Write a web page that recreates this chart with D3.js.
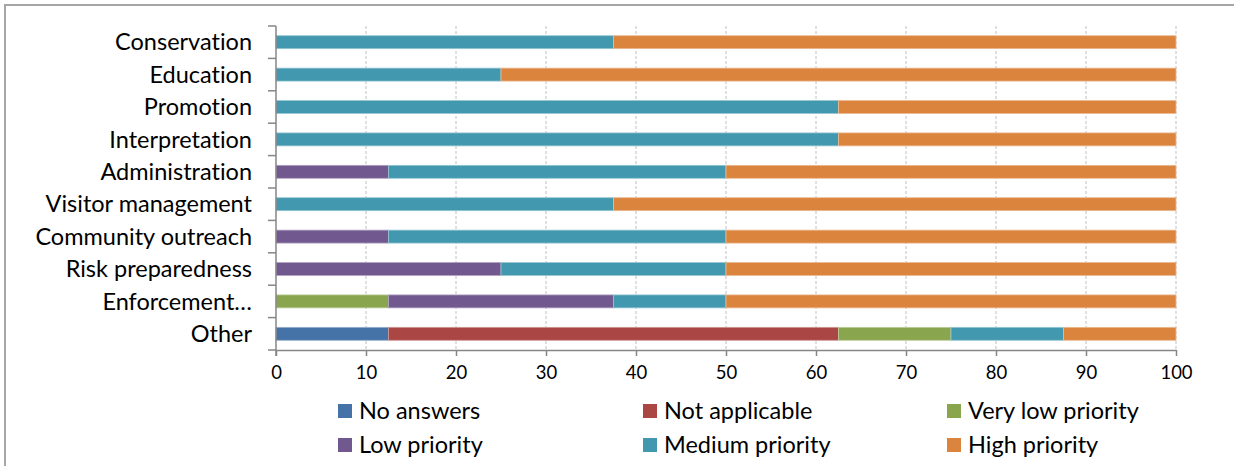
<!DOCTYPE html>
<html><head><meta charset="utf-8">
<script src="https://cdn.jsdelivr.net/npm/d3@7/dist/d3.min.js"></script>
<style>body{margin:0;background:#fff}svg{display:block}text{font-variant-ligatures:none;font-feature-settings:"liga" 0}</style>
</head><body><svg id="c" width="1234" height="466"></svg>
<script>
const categories = ["Conservation","Education","Promotion","Interpretation","Administration","Visitor management","Community outreach","Risk preparedness","Enforcement…","Other"];
const seriesNames = ["No answers","Not applicable","Very low priority","Low priority","Medium priority","High priority"];
const noAnswers     = [0,0,0,0,0,0,0,0,0,12.5];
const notApplicable = [0,0,0,0,0,0,0,0,0,50];
const veryLow       = [0,0,0,0,0,0,0,0,12.5,12.5];
const lowPriority   = [0,0,0,0,12.5,0,12.5,25,25,0];
const mediumPriority= [37.5,25,62.5,62.5,37.5,37.5,37.5,25,12.5,12.5];
const highPriority  = [62.5,75,37.5,37.5,50,62.5,50,50,50,12.5];
const xTicks = [0,10,20,30,40,50,60,70,80,90,100];
const colors = ["#4572a7","#aa4643","#89a54e","#71588f","#4198af","#db843d"];

const seriesValues = [noAnswers,notApplicable,veryLow,lowPriority,mediumPriority,highPriority];
const rows = categories.map((c,i)=>{const r={cat:c}; seriesNames.forEach((s,j)=>r[s]=seriesValues[j][i]); return r;});
const stack = d3.stack().keys(seriesNames)(rows);

const svg = d3.select("#c");
const font = "Lato, 'Open Sans', sans-serif";

// frame
svg.append("rect").attr("x",5).attr("y",5).attr("width",1240).attr("height",470)
  .attr("fill","none").attr("stroke","#a6a6a6").attr("stroke-width",2);

const x = d3.scaleLinear().domain([0,100]).range([276,1176]);
const y = d3.scaleBand().domain(categories).range([26,350]).paddingInner(0.6).paddingOuter(0.3);

// gridlines
svg.append("g").selectAll("line").data(xTicks.filter(d=>d>0)).join("line")
  .attr("x1",d=>x(d)).attr("x2",d=>x(d)).attr("y1",26).attr("y2",350)
  .attr("stroke","#c0c0c0").attr("stroke-width",1).attr("stroke-dasharray","3,2");

// bars
svg.append("g").selectAll("g").data(stack).join("g")
  .attr("fill",(d,i)=>colors[i])
  .attr("stroke",(d,i)=>d3.interpolateRgb(colors[i],"#fff")(0.45))
  .attr("stroke-width",0.8)
  .selectAll("rect").data(d=>d.filter(p=>p[1]-p[0]>0)).join("rect")
  .attr("x",d=>x(d[0])).attr("width",d=>x(d[1])-x(d[0]))
  .attr("y",d=>y(d.data.cat)).attr("height",y.bandwidth());

// x axis
const xAxis = d3.axisBottom(x).tickValues(xTicks).tickSize(6).tickSizeOuter(0).tickPadding(10);
const gx = svg.append("g").attr("transform","translate(0,350)").call(xAxis);
gx.select(".domain").attr("stroke","#868686").attr("stroke-width",1.5);
gx.selectAll(".tick line").attr("stroke","#868686").attr("stroke-width",1.5);
gx.selectAll(".tick text").attr("fill","#000").style("font-family",font).style("font-size","18.5px");

// y axis
const step = y.step();
const bounds = d3.range(categories.length+1).map(i=>26+i*step);
svg.append("line").attr("x1",276).attr("x2",276).attr("y1",26).attr("y2",356)
  .attr("stroke","#868686").attr("stroke-width",1.5);
svg.append("g").selectAll("line").data(bounds).join("line")
  .attr("x1",268).attr("x2",276).attr("y1",d=>d).attr("y2",d=>d)
  .attr("stroke","#868686").attr("stroke-width",1.5);
svg.append("g").selectAll("text").data(categories).join("text")
  .attr("x",252).attr("y",d=>y(d)+y.bandwidth()/2).attr("dy","0.35em")
  .attr("text-anchor","end").attr("fill","#000")
  .style("font-family",font).style("font-size","23.5px").text(d=>d);

// legend
const legX = [338,643,947], legY = [404,438];
const lg = svg.append("g").selectAll("g").data(seriesNames).join("g")
  .attr("transform",(d,i)=>`translate(${legX[i%3]},${legY[Math.floor(i/3)]})`);
lg.append("rect").attr("width",14).attr("height",14).attr("fill",(d,i)=>colors[i]);
lg.append("text").attr("x",21).attr("y",7).attr("dy","0.35em").attr("fill","#000")
  .style("font-family",font).style("font-size","23.5px").text(d=>d);
</script></body></html>
